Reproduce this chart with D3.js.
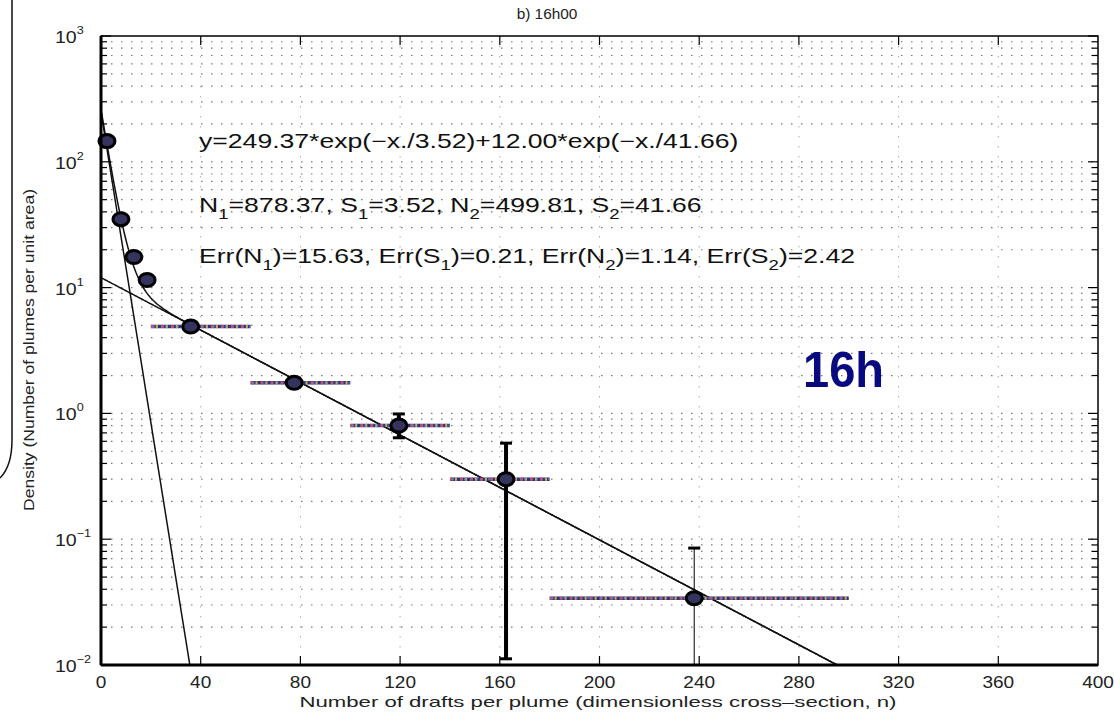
<!DOCTYPE html>
<html lang="en">
<head>
<meta charset="UTF-8">
<title>b) 16h00</title>
<script src="https://d3js.org/d3.v7.min.js"></script>
<style>
    body { margin: 0; padding: 0; background: #fff; }
    svg { display: block; font-family: "Liberation Sans", Arial, sans-serif; }
</style>
</head>
<body>
<svg id="chart" width="1114" height="713"></svg>
<script>
const drafts   = [2.4, 8, 13.2, 18.5, 36, 77.5, 119.5, 162.5, 238];
const density  = [146, 35, 17.5, 11.5, 4.9, 1.75, 0.80, 0.30, 0.034];
const binLow   = [null, null, null, null, 20, 60, 100, 140, 180];
const binHigh  = [null, null, null, null, 60, 100, 140, 180, 300];
const errLow   = [null, null, null, null, null, null, 0.64, 0.0112, 0.001];
const errHigh  = [null, null, null, null, null, null, 0.99, 0.58, 0.085];
const errThick = [0, 0, 0, 0, 0, 0, 4, 4, 1];

// fitted two-exponential model shown on the figure
const fitAmp   = [249.37, 12.00];
const fitScale = [3.52, 41.66];

const xTicks = [0, 40, 80, 120, 160, 200, 240, 280, 320, 360, 400];
const yDecades = [-2, -1, 0, 1, 2, 3];

const svg = d3.select("#chart");
const margin = { top: 36, left: 101, right: 16, bottom: 48 };
const width = 1114 - margin.left - margin.right;
const height = 713 - margin.top - margin.bottom;

const x = d3.scaleLinear().domain([0, 400]).range([0, width]);
const y = d3.scaleLog().domain([0.01, 1000]).range([height, 0]);

svg.append("path")
    .attr("d", "M12,0 L12,440 Q12,466 0,478")
    .attr("fill", "none").attr("stroke", "#111").attr("stroke-width", 1.5);

const g = svg.append("g").attr("transform", `translate(${margin.left},${margin.top})`);

g.append("clipPath").attr("id", "clip")
    .append("rect").attr("width", width).attr("height", height);

// log minor values
const minorY = [];
for (let k = -2; k < 3; k++) {
    for (let m = 1; m < 10; m++) minorY.push(m * Math.pow(10, k));
}
minorY.push(1000);

// grid
g.append("g").selectAll("line")
    .data(minorY.filter(v => v > 0.01 && v < 1000))
    .join("line")
    .attr("x1", 0).attr("x2", width)
    .attr("y1", d => y(d)).attr("y2", d => y(d))
    .attr("stroke", "#777").attr("stroke-width", 1.2)
    .attr("stroke-dasharray", "1.5,8.5");

g.append("g").selectAll("line")
    .data(xTicks.slice(1, -1))
    .join("line")
    .attr("x1", d => x(d)).attr("x2", d => x(d))
    .attr("y1", 0).attr("y2", height)
    .attr("stroke", "#aaa").attr("stroke-width", 1)
    .attr("stroke-dasharray", "1.5,8.5");

// fit curves
const xs = d3.range(0, 400.5, 0.5);
const comp1 = n => fitAmp[0] * Math.exp(-n / fitScale[0]);
const comp2 = n => fitAmp[1] * Math.exp(-n / fitScale[1]);
const line = d3.line()
    .defined(d => d[1] > 0.005)
    .x(d => x(d[0])).y(d => y(d[1]));

const curves = g.append("g").attr("clip-path", "url(#clip)");
[xs.map(n => [n, comp1(n)]), xs.map(n => [n, comp2(n)]), xs.map(n => [n, comp1(n) + comp2(n)])]
    .forEach(c => {
        curves.append("path").datum(c)
            .attr("d", line)
            .attr("fill", "none").attr("stroke", "#111").attr("stroke-width", 1.5);
    });

// horizontal bin bars (dithered multi-colour look)
const pts = drafts.map((d, i) => ({
    n: d, v: density[i], lo: binLow[i], hi: binHigh[i],
    elo: errLow[i], ehi: errHigh[i], ew: errThick[i]
}));
const binned = pts.filter(d => d.lo !== null);
const barLayer = g.append("g").attr("clip-path", "url(#clip)");
const barStyles = [
    { c: "#2a3478", w: 3.5, dash: null, off: 0, op: 1 },
    { c: "#d05a78", w: 3, dash: "3,7", off: 0, op: 0.85 },
    { c: "#e8c44c", w: 3, dash: "2,8", off: -5, op: 0.85 },
    { c: "#6a8ad0", w: 2, dash: "2,10", off: -2, op: 0.7 }
];
barStyles.forEach(s => {
    barLayer.append("g").selectAll("line").data(binned).join("line")
        .attr("x1", d => x(d.lo)).attr("x2", d => x(d.hi))
        .attr("y1", d => y(d.v)).attr("y2", d => y(d.v))
        .attr("stroke", s.c).attr("stroke-width", s.w)
        .attr("stroke-dasharray", s.dash).attr("stroke-dashoffset", s.off)
        .attr("opacity", s.op);
});

// vertical error bars
const withErr = pts.filter(d => d.elo !== null);
const errLayer = g.append("g").attr("clip-path", "url(#clip)");
errLayer.selectAll(".err").data(withErr).join("line")
    .attr("x1", d => x(d.n)).attr("x2", d => x(d.n))
    .attr("y1", d => y(d.ehi)).attr("y2", d => y(Math.max(d.elo, 0.005)))
    .attr("stroke", "#000").attr("stroke-width", d => d.ew);
errLayer.selectAll(".cap-top").data(withErr).join("line")
    .attr("x1", d => x(d.n) - 6).attr("x2", d => x(d.n) + 6)
    .attr("y1", d => y(d.ehi)).attr("y2", d => y(d.ehi))
    .attr("stroke", "#000").attr("stroke-width", 3);
errLayer.selectAll(".cap-bot").data(withErr.filter(d => d.elo > 0.01)).join("line")
    .attr("x1", d => x(d.n) - 6).attr("x2", d => x(d.n) + 6)
    .attr("y1", d => y(d.elo)).attr("y2", d => y(d.elo))
    .attr("stroke", "#000").attr("stroke-width", 3);

// markers
g.append("g").selectAll("ellipse").data(pts).join("ellipse")
    .attr("cx", d => x(d.n)).attr("cy", d => y(d.v))
    .attr("rx", 8).attr("ry", 6.5)
    .attr("fill", "#34345e").attr("stroke", "#000").attr("stroke-width", 3);

// axes frame
g.append("rect").attr("width", width).attr("height", height)
    .attr("fill", "none").attr("stroke", "#000").attr("stroke-width", 1.5);
g.append("line").attr("x1", 0).attr("x2", 0).attr("y1", 0).attr("y2", height)
    .attr("stroke", "#000").attr("stroke-width", 3);
g.append("line").attr("x1", 0).attr("x2", width).attr("y1", height).attr("y2", height)
    .attr("stroke", "#000").attr("stroke-width", 3);

// inward ticks
const tk = g.append("g").attr("stroke", "#000").attr("stroke-width", 1.2);
xTicks.slice(1, -1).forEach(t => {
    tk.append("line").attr("x1", x(t)).attr("x2", x(t)).attr("y1", height).attr("y2", height - 9);
    tk.append("line").attr("x1", x(t)).attr("x2", x(t)).attr("y1", 0).attr("y2", 9);
});
minorY.forEach(v => {
    const major = Math.abs(Math.log10(v) - Math.round(Math.log10(v))) < 1e-9;
    const len = major ? 10 : 6;
    tk.append("line").attr("x1", 0).attr("x2", len).attr("y1", y(v)).attr("y2", y(v));
    tk.append("line").attr("x1", width).attr("x2", width - len).attr("y1", y(v)).attr("y2", y(v));
});

// tick labels
g.append("g").selectAll("text").data(xTicks).join("text")
    .attr("transform", d => `translate(${x(d)},${height + 23}) scale(1.12,1)`)
    .attr("text-anchor", "middle").attr("font-size", 17).attr("fill", "#222")
    .text(d => d);

const yl = g.append("g").selectAll("text").data(yDecades).join("text")
    .attr("transform", d => `translate(-46,${y(Math.pow(10, d)) + 7}) scale(1.15,1)`)
    .attr("text-anchor", "start").attr("font-size", 17).attr("fill", "#222");
yl.append("tspan").text("10");
yl.append("tspan").attr("dy", -9).attr("font-size", 11).text(d => d < 0 ? "\u2212" + (-d) : d);

// titles
svg.append("text").attr("transform", "translate(547,19) scale(1.1,1)").attr("text-anchor", "middle")
    .attr("font-size", 14).attr("fill", "#222").text("b) 16h00");
svg.append("text").attr("x", 598).attr("y", 707).attr("text-anchor", "middle")
    .attr("font-size", 15).attr("fill", "#222")
    .attr("textLength", 597).attr("lengthAdjust", "spacingAndGlyphs")
    .text("Number of drafts per plume (dimensionless cross\u2013section, n)");
svg.append("text").attr("transform", "translate(34,350) rotate(-90)")
    .attr("text-anchor", "middle").attr("font-size", 14).attr("fill", "#222")
    .attr("textLength", 322).attr("lengthAdjust", "spacingAndGlyphs")
    .text("Density (Number of plumes per unit area)");

// fit annotation
const annX = 199 - margin.left;
const annScale = 1.33;
const ann = g.append("g").attr("font-size", 20).attr("fill", "#111");
ann.append("text").attr("transform", `translate(${annX},112) scale(${annScale},1)`)
    .text("y=249.37*exp(\u2212x./3.52)+12.00*exp(\u2212x./41.66)");

function subText(yPos, parts) {
    const t = ann.append("text").attr("transform", `translate(${annX},${yPos}) scale(${annScale},1)`);
    let shifted = false;
    parts.forEach(p => {
        if (p.sub) {
            t.append("tspan").attr("dy", 7).attr("font-size", 14).text(p.sub);
            shifted = true;
        } else {
            t.append("tspan").attr("dy", shifted ? -7 : 0).text(p.t);
            shifted = false;
        }
    });
}
subText(176, [{ t: "N" }, { sub: "1" }, { t: "=878.37, S" }, { sub: "1" }, { t: "=3.52, N" }, { sub: "2" },
    { t: "=499.81, S" }, { sub: "2" }, { t: "=41.66" }]);
subText(227, [{ t: "Err(N" }, { sub: "1" }, { t: ")=15.63, Err(S" }, { sub: "1" }, { t: ")=0.21, Err(N" }, { sub: "2" },
    { t: ")=1.14, Err(S" }, { sub: "2" }, { t: ")=2.42" }]);

svg.append("text").attr("transform", "translate(803,387) scale(0.94,1)")
    .attr("font-size", 50).attr("font-weight", "bold").attr("fill", "#0a0a80")
    .text("16h");
</script>
</body>
</html>
